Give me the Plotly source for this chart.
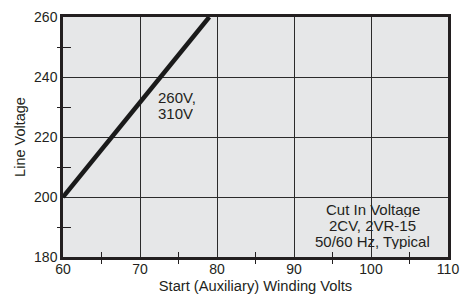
import plotly.graph_objects as go

# Data
winding_volts = [60, 79]
line_voltage = [200, 260]
x_ticks = [60, 70, 80, 90, 100, 110]
y_ticks = [180, 200, 220, 240, 260]
x_minor = [65, 75, 85, 95, 105]
y_minor = [190, 210, 230, 250]
curve_label_lines = ["260V,", "310V"]
curve_label_y = [233.1, 227.8]
note_lines = ["Cut In Voltage", "2CV, 2VR-15", "50/60 Hz, Typical"]
note_y = [195.7, 190.4, 185.1]

FONT = "Liberation Sans, Arial, sans-serif"
TXT = "#231f20"

fig = go.Figure()
fig.add_trace(go.Scatter(x=winding_volts, y=line_voltage, mode="lines",
                         line=dict(color="#1a1a1a", width=4.5),
                         showlegend=False, hoverinfo="skip"))

annotations = []
for t, yv in zip(curve_label_lines, curve_label_y):
    annotations.append(dict(x=72.2, y=yv, xref="x", yref="y", text=t, showarrow=False,
                            xanchor="left", yanchor="middle", height=15, borderpad=0,
                            font=dict(size=15, color=TXT, family=FONT)))
for t, yv in zip(note_lines, note_y):
    annotations.append(dict(x=100.25, y=yv, xref="x", yref="y", text=t, showarrow=False,
                            xanchor="center", yanchor="middle", height=15, borderpad=0,
                            font=dict(size=15, color=TXT, family=FONT)))

fig.update_layout(
    width=473, height=297,
    margin=dict(l=63, r=25, t=17, b=40, autoexpand=False),
    paper_bgcolor="white", plot_bgcolor="#e6e7e8",
    font=dict(family=FONT, size=14, color=TXT),
    annotations=annotations,
    xaxis=dict(range=[60, 110], tickvals=x_ticks, ticktext=[str(v) for v in x_ticks],
               showgrid=True, gridcolor="#2b2b2b", gridwidth=1.3,
               showline=True, linecolor="#231f20", linewidth=2.5, mirror=True,
               ticks="", zeroline=False, automargin=False, ticklabelstandoff=-3,
               minor=dict(tickvals=x_minor, ticks="inside", ticklen=5,
                          tickwidth=1.2, tickcolor="#231f20", showgrid=False),
               title=dict(text="Start (Auxiliary) Winding Volts", standoff=6,
                          font=dict(size=14.7)),
               tickfont=dict(size=14)),
    yaxis=dict(range=[180, 260], tickvals=y_ticks, ticktext=[str(v) for v in y_ticks],
               showgrid=True, gridcolor="#2b2b2b", gridwidth=1.3,
               showline=True, linecolor="#231f20", linewidth=2.5, mirror=True,
               ticks="", zeroline=False, automargin=False,
               minor=dict(tickvals=y_minor, ticks="inside", ticklen=8,
                          tickwidth=1.2, tickcolor="#231f20", showgrid=False),
               title=dict(text="Line Voltage", standoff=6, font=dict(size=14.5)),
               tickfont=dict(size=14)),
    xaxis2=dict(range=[60, 110], overlaying="x", anchor="y", side="bottom",
                showgrid=False, showline=False, zeroline=False, showticklabels=False,
                tickvals=x_ticks, ticks="", automargin=False,
                minor=dict(tickvals=x_minor, ticks="outside", ticklen=6,
                           tickwidth=1.2, tickcolor="#231f20", showgrid=False)),
    yaxis2=dict(range=[180, 260], overlaying="y", anchor="x", side="left",
                showgrid=False, showline=False, zeroline=False, showticklabels=False,
                tickvals=y_ticks, ticks="", automargin=False,
                minor=dict(tickvals=y_minor, ticks="outside", ticklen=5,
                           tickwidth=1.2, tickcolor="#231f20", showgrid=False)),
)
# invisible trace to activate the overlay axes
fig.add_trace(go.Scatter(x=[winding_volts[0]], y=[line_voltage[0]], xaxis="x2", yaxis="y2",
                         mode="markers", marker=dict(opacity=0), showlegend=False,
                         hoverinfo="skip"))

fig.write_html("out.html", config={"displayModeBar": False},
               post_script="document.body.style.margin='0';document.body.style.overflow='hidden';")
